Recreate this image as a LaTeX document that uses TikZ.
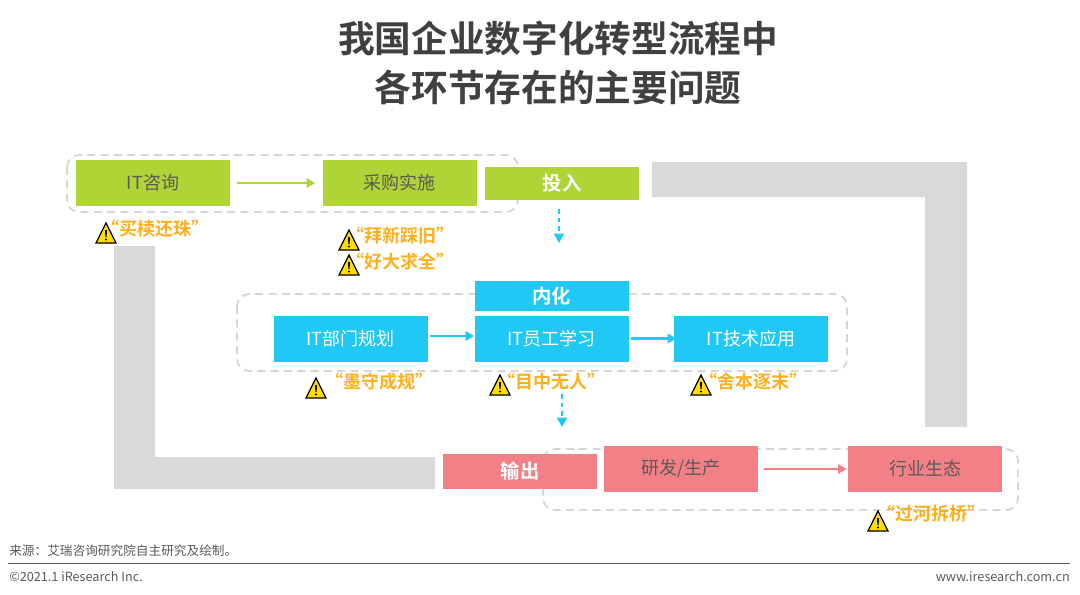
\documentclass[tikz,border=0pt]{standalone}
\usepackage{fontspec}
\setmainfont{Noto Sans CJK SC}[BoldFont={Noto Sans CJK SC Bold}]
\usetikzlibrary{arrows.meta}
\definecolor{cgreen}{HTML}{B0D335}
\definecolor{cblue}{HTML}{1FC8F5}
\definecolor{cred}{HTML}{F48087}
\definecolor{cgray}{HTML}{D9D9D9}
\definecolor{cdash}{HTML}{D6D6D6}
\definecolor{corange}{HTML}{FFAF1A}
\definecolor{clabel}{HTML}{5A5A5A}
\definecolor{ctitle}{HTML}{404040}
\definecolor{cyel}{HTML}{FFDD00}
\tikzset{
  px/.style={x=0.75pt,y=-0.75pt},
  boxbase/.style={draw=none,minimum width=115.5pt,inner sep=0pt,align=center},
  stagebox/.style={boxbase,minimum height=34.5pt,text=clabel,font=\fontsize{13.5pt}{16pt}\selectfont},
  whitebox/.style={stagebox,text=white},
  headbox/.style={boxbase,text=white,font=\fontsize{14.5pt}{17pt}\selectfont\bfseries},
  framebox/.style={draw=cdash,line width=1.4pt,dash pattern=on 6pt off 4pt,rounded corners=9pt},
  flow/.style={line width=2pt,-{Triangle[length=6.5pt,width=7pt]}},
  dflow/.style={line width=1.2pt,dash pattern=on 3.5pt off 3pt,draw=cblue,-{Triangle[length=7pt,width=7.5pt]}},
  band/.style={fill=cgray,draw=none},
  warntext/.style={inner sep=0pt,text=corange,font=\fontsize{13.5pt}{16pt}\selectfont\bfseries},
  titletext/.style={inner sep=0pt,text=ctitle,align=center,font=\fontsize{27.5pt}{37pt}\selectfont\bfseries},
  foot/.style={inner sep=0pt,text=clabel,font=\fontsize{9.5pt}{12pt}\selectfont},
  warnsign/.pic={
    \fill[cyel,draw=black,line width=0.9pt,line join=miter] (-10,10) -- (0,-10) -- (10,10) -- cycle;
    \fill[black] (-1,-3) -- (1,-3) -- (0.6,4) -- (-0.6,4) -- cycle;
    \fill[black] (0,6.5) circle (1.1);
  }
}
\begin{document}
\begin{tikzpicture}[px]
\useasboundingbox (0,0) rectangle (1080,594);
% title
\node[titletext] (title) at (558,63) {我国企业数字化转型流程中\\各环节存在的主要问题};
% grey bands
\fill[band] (652,162) -- (967,162) -- (967,427) -- (925,427) -- (925,197) -- (652,197) -- cycle;
\fill[band] (114,246) -- (155,246) -- (155,457) -- (435,457) -- (435,489) -- (114,489) -- cycle;
% dashed frames
\draw[framebox] (67,155) rectangle (518,212);
\draw[framebox] (237,294) rectangle (847,371);
\draw[framebox] (543,449) rectangle (1018,510);
% green
\node[stagebox,fill=cgreen] (a1) at (153,183) {IT咨询};
\node[stagebox,fill=cgreen] (a2) at (399.5,183) {采购实施};
\node[headbox,fill=cgreen,minimum height=25pt] (a3) at (562,183.5) {投入};
% blue
\node[headbox,fill=cblue,minimum height=22.5pt,text=white] (b0) at (551.5,296) {内化};
\node[whitebox,fill=cblue] (b1) at (350.5,338.5) {IT部门规划};
\node[whitebox,fill=cblue] (b2) at (551.5,338.5) {IT员工学习};
\node[whitebox,fill=cblue] (b3) at (751,338.5) {IT技术应用};
% red
\node[headbox,fill=cred,minimum height=26pt] (c0) at (520,471.5) {输出};
\node[stagebox,fill=cred] (c1) at (681,469) {研发/生产};
\node[stagebox,fill=cred] (c2) at (925,469) {行业生态};
% connectors
\draw[flow,draw=cgreen,shorten <=7pt*0.75,shorten >=7pt*0.75] (a1) -- (a2);
\draw[flow,draw=cblue,shorten <=1.5pt,shorten >=0pt] ([yshift=1.9pt]b1.east) -- ([yshift=1.9pt]b2.west);
\draw[flow,draw=cblue,shorten <=2pt,shorten >=-2pt] (b2) -- (b3);
\draw[flow,draw=cred,shorten <=4.5pt,shorten >=0.75pt] (c1) -- (c2);
\coordinate (d1s) at (559,209);
\coordinate (d1e) at (559,243);
\coordinate (d2s) at (562,394);
\coordinate (d2e) at (562,427);
\draw[dflow] (d1s) -- (d1e);
\draw[dflow] (d2s) -- (d2e);
% warnings
\pic at (106,233) {warnsign};
\pic at (349,240) {warnsign};
\pic at (349,265) {warnsign};
\pic at (316,388) {warnsign};
\pic at (500,385) {warnsign};
\pic at (701,385) {warnsign};
\pic at (878,521) {warnsign};
\node[warntext] (w1) at (155,229) {“买椟还珠”};
\node[warntext] (w2) at (400,236) {“拜新踩旧”};
\node[warntext] (w3) at (400,262) {“好大求全”};
\node[warntext] (w4) at (379,382) {“墨守成规”};
\node[warntext] (w5) at (551,382) {“目中无人”};
\node[warntext] (w6) at (753,382) {“舍本逐末”};
\node[warntext] (w7) at (931,514) {“过河拆桥”};
% footer
\node[foot,anchor=west] (src) at (9,551) {来源：艾瑞咨询研究院自主研究及绘制。};
\coordinate (ruleL) at (8,563.5);
\coordinate (ruleR) at (1070,563.5);
\draw[draw=clabel,line width=0.75pt] (ruleL) -- (ruleR);
\node[foot,anchor=west] (copy) at (9,577) {©2021.1 iResearch Inc.};
\node[foot,anchor=east] (web) at (1070,577) {www.iresearch.com.cn};
\end{tikzpicture}
\end{document}
